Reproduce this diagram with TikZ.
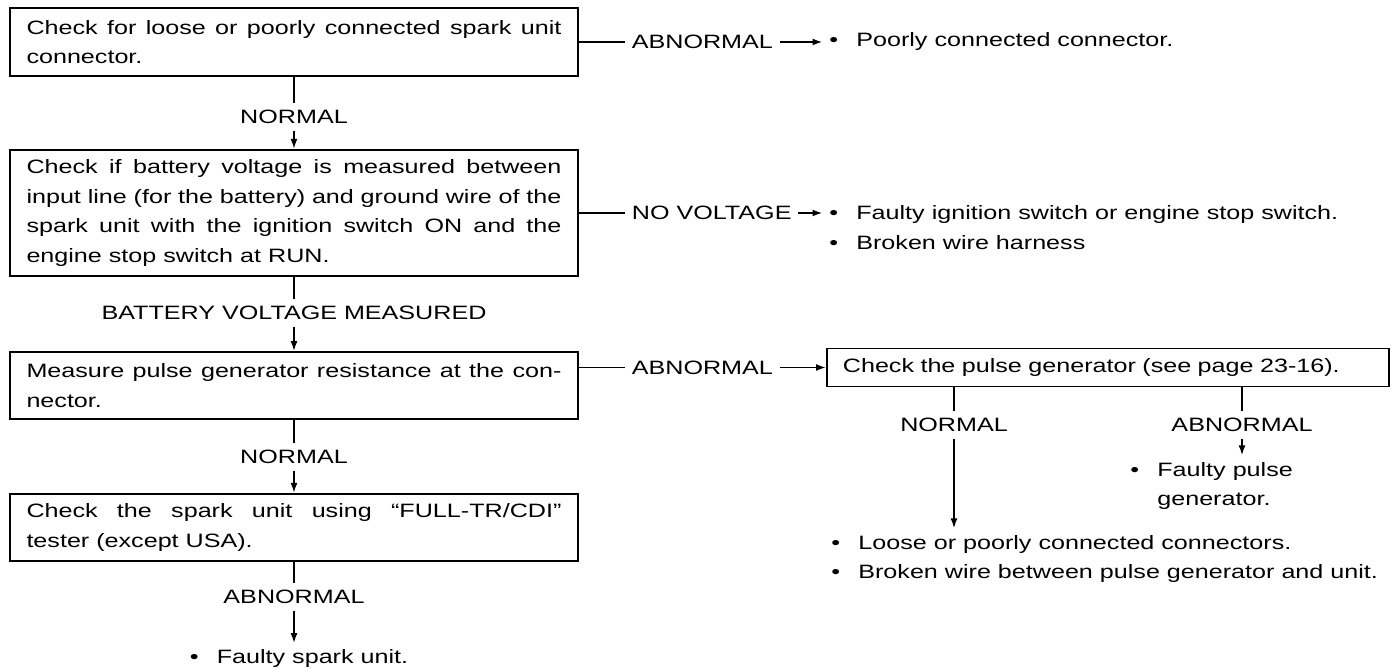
\documentclass[tikz,border=0pt]{standalone}
\usepackage{fontspec}
\setmainfont{Liberation Sans}[FakeStretch=1.3]
\usepackage{tikz}
\usetikzlibrary{arrows.meta,positioning}

\newcommand{\blt}{\makebox[0.54cm][l]{\textbullet}}
\newcommand{\bltgap}{\hspace*{0.54cm}}

\tikzset{
  txt/.style={font=\fontsize{11}{16.8}\selectfont, inner sep=0.13cm},
  chkbox/.style={txt, draw, line width=1pt, text width=10.7cm,
    inner xsep=0.33cm, inner ysep=0.2cm, align=justify},
  reslist/.style={txt, anchor=west, align=left},
  lbl/.style={txt},
  link/.style={line width=1pt},
  flow/.style={line width=1pt, -{Latex[length=2mm,width=1.4mm]}},
}

\begin{document}
\begin{tikzpicture}[x=1cm,y=1cm,>=Latex]
  \useasboundingbox[fill=white] (0,0) rectangle (27.96,13.4);

  % checks, left column
  \node[chkbox, minimum height=1.36cm] (chk1) at (5.88,12.56)
    {Check for loose or poorly connected spark unit\linebreak connector.};
  \node[lbl] (ok1) at (5.88,11.06) {NORMAL};
  \node[chkbox, minimum height=2.52cm] (chk2) at (5.88,9.14)
    {Check if battery voltage is measured between\linebreak
     input line (for the battery) and ground wire of the\linebreak
     spark unit with the ignition switch ON and the\linebreak
     engine stop switch at RUN.};
  \node[lbl] (ok2) at (5.88,7.14) {BATTERY VOLTAGE MEASURED};
  \node[chkbox, minimum height=1.34cm] (chk3) at (5.88,5.69)
    {Measure pulse generator resistance at the con-\linebreak nector.};
  \node[lbl] (ok3) at (5.88,4.26) {NORMAL};
  \node[chkbox, minimum height=1.34cm] (chk4) at (5.88,2.85)
    {Check the spark unit using ``FULL-TR/CDI''\linebreak tester (except USA).};
  \node[lbl] (bad4) at (5.88,1.46) {ABNORMAL};
  \node[lbl] (res6) at (5.98,0.22) {\blt Faulty spark unit.};

  % branches, right side
  \node[lbl, anchor=west] (bad1) at (12.5,12.56) {ABNORMAL};
  \node[reslist] (res1) at (16.45,12.56) {\blt Poorly connected connector.};
  \node[lbl, anchor=west] (bad2) at (12.5,9.14) {NO VOLTAGE};
  \node[reslist] (res2) at (16.45,8.85)
    {\blt Faulty ignition switch or engine stop switch.\\
     \blt Broken wire harness};
  \node[lbl, anchor=west] (bad3) at (12.5,6.05) {ABNORMAL};
  \node[txt, draw, line width=1pt, anchor=west, text width=10.6cm,
    inner xsep=0.32cm, minimum height=0.76cm, align=left] (pulse) at (16.52,6.05)
    {Check the pulse generator (see page 23-16).};
  \node[lbl] (ok5) at (19.08,4.9) {NORMAL};
  \node[lbl] (bad5) at (24.84,4.9) {ABNORMAL};
  \node[reslist] (res4) at (22.47,3.68) {\blt Faulty pulse\\ \bltgap generator.};
  \node[reslist] (res5) at (16.49,2.22)
    {\blt Loose or poorly connected connectors.\\
     \blt Broken wire between pulse generator and unit.};

  % main line
  \draw[link] (chk1) -- (ok1);
  \draw[flow] (ok1) -- (chk2);
  \draw[link] (chk2) -- (ok2);
  \draw[flow] (ok2) -- (chk3);
  \draw[link] (chk3) -- (ok3);
  \draw[flow] (ok3) -- (chk4);
  \draw[link] (chk4) -- (bad4);
  \draw[flow] (bad4) -- (bad4 |- res6.north);

  % side exits
  \draw[link] (chk1) -- (bad1);
  \draw[flow] (bad1) -- (res1);
  \draw[link] (chk2) -- (bad2);
  \draw[flow] (bad2.east) -- (bad2.east -| res2.west);
  \draw[link] (chk3.east |- bad3) -- (bad3);
  \draw[flow] (bad3) -- (pulse);
  \draw[link] (ok5 |- pulse.south) -- (ok5);
  \draw[link] (bad5 |- pulse.south) -- (bad5);
  \draw[flow] (ok5) -- (ok5 |- res5.north);
  \draw[flow] (bad5) -- (bad5 |- res4.north);
\end{tikzpicture}
\end{document}
